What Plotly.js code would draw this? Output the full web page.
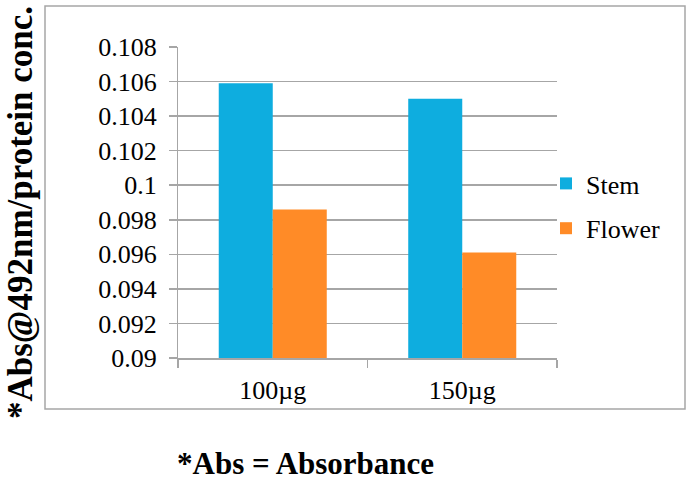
<!DOCTYPE html>
<html>
<head>
<meta charset="utf-8">
<script src="https://cdn.plot.ly/plotly-3.0.1.min.js"></script>
<style>html,body{margin:0;padding:0;background:#fff;}#chart{width:688px;height:482px;}</style>
</head>
<body>
<div id="chart"></div>
<script>
const categories = ["100µg", "150µg"];
const stemValues = [0.1059, 0.1050];
const flowerValues = [0.0986, 0.0961];
const seriesNames = ["Stem", "Flower"];
const yTitle = "*Abs@492nm/protein conc.";
const footnote = "*Abs = Absorbance";

const W = 688, H = 482;
const L = 178, R = 557, T = 47, B = 358;
const px = x => (x - L) / (R - L);
const py = y => (B - y) / (B - T);
const font = "Liberation Serif";

const traces = [
  {type: "bar", name: seriesNames[0], x: categories, y: stemValues, marker: {color: "#0EADDF"}, legendgroup: "a"},
  {type: "bar", name: seriesNames[1], x: categories, y: flowerValues, marker: {color: "#FF8B27"}, legendgroup: "b"}
];

const layout = {
  width: W, height: H,
  margin: {l: L, r: W - R, t: T, b: H - B, pad: 0},
  paper_bgcolor: "#fff", plot_bgcolor: "#fff",
  barmode: "group", bargap: 0.43, bargroupgap: 0,
  font: {family: font, color: "#000", size: 26},
  showlegend: true,
  legend: {x: px(546), y: py(160), xanchor: "left", yanchor: "top", font: {size: 26, family: font, color: "#000"}, tracegroupgap: 8, bgcolor: "rgba(0,0,0,0)"},
  xaxis: {
    type: "category", showline: true, linecolor: "#A6A6A6", linewidth: 1.5,
    ticks: "outside", tickson: "boundaries", ticklen: 8, tickcolor: "#A6A6A6", tickwidth: 1.5,
    ticklabelstandoff: 8,
    showgrid: false, tickfont: {size: 26, family: font, color: "#000"}, fixedrange: true
  },
  yaxis: {
    range: [0.09, 0.108], dtick: 0.002, tick0: 0.09,
    showline: true, linecolor: "#A6A6A6", linewidth: 1.5,
    ticks: "outside", ticklen: 8, tickcolor: "#A6A6A6", tickwidth: 1.5,
    showgrid: true, gridcolor: "#A6A6A6", gridwidth: 1.5,
    zeroline: false, tickfont: {size: 26, family: font, color: "#000"}, tickformat: "~r", ticksuffix: " ",
    fixedrange: true
  },
  shapes: [
    {type: "rect", xref: "paper", yref: "paper", x0: px(45), x1: px(685), y0: py(409), y1: py(6), line: {color: "#A6A6A6", width: 1.5}, fillcolor: "rgba(0,0,0,0)", layer: "below"}
  ],
  annotations: [
    {xref: "paper", yref: "paper", x: px(20), y: py(213), text: "<b>" + yTitle + "</b>", textangle: -90, showarrow: false, xanchor: "center", yanchor: "middle", font: {size: 35, family: font, color: "#000"}},
    {xref: "paper", yref: "paper", x: px(305), y: py(463), text: "<b>" + footnote + "</b>", showarrow: false, xanchor: "center", yanchor: "middle", font: {size: 31, family: font, color: "#000"}}
  ]
};

Plotly.newPlot("chart", traces, layout, {staticPlot: true, displayModeBar: false});
</script>
</body>
</html>
